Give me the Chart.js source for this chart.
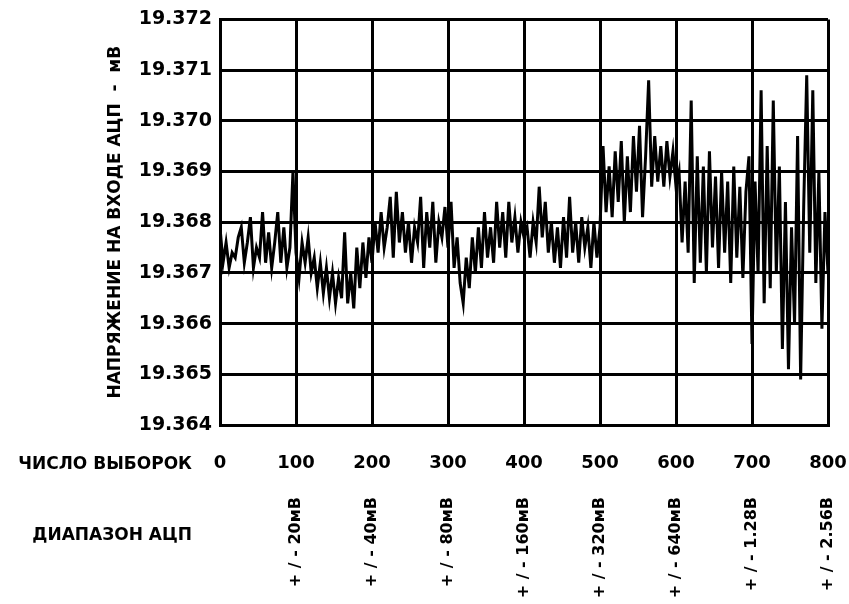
<!DOCTYPE html>
<html>
<head>
<meta charset="utf-8">
<script src="https://cdn.jsdelivr.net/npm/chart.js@4/dist/chart.umd.min.js"></script>
<style>
  html, body { margin: 0; padding: 0; background: #fff; }
  canvas { display: block; }
</style>
</head>
<body>
<canvas id="chart" width="849" height="604"></canvas>
<script>
// число выборок по оси X и подписи диапазонов АЦП
const sampleTicks = [0, 100, 200, 300, 400, 500, 600, 700, 800];
const adcRanges = ['+ / - 20мВ', '+ / - 40мВ', '+ / - 80мВ', '+ / - 160мВ',
                   '+ / - 320мВ', '+ / - 640мВ', '+ / - 1.28В', '+ / - 2.56В'];
const sampleStep = 4;

// напряжение, мВ (каждая 4-я выборка), по участкам диапазонов
const range20mV = [19.3679, 19.3672, 19.3676, 19.3671, 19.3674, 19.3673, 19.3677, 19.3679, 19.3672, 19.3676,
                   19.3681, 19.3671, 19.3675, 19.3673, 19.3682, 19.3672, 19.3678, 19.3671, 19.3676, 19.3682,
                   19.3672, 19.3679, 19.3671, 19.3675, 19.3690, 19.3674];
const range40mV = [19.3669, 19.3676, 19.3672, 19.3677, 19.3670, 19.3673, 19.3667, 19.3672, 19.3666, 19.3671,
                   19.3665, 19.3670, 19.3664, 19.3669, 19.3665, 19.3678, 19.3664, 19.3670, 19.3663, 19.3675,
                   19.3667, 19.3676, 19.3669, 19.3677, 19.3672];
const range80mV = [19.3680, 19.3674, 19.3682, 19.3675, 19.3679, 19.3685, 19.3673, 19.3686, 19.3676, 19.3682,
                   19.3674, 19.3680, 19.3672, 19.3679, 19.3676, 19.3685, 19.3671, 19.3682, 19.3675, 19.3684,
                   19.3672, 19.3680, 19.3677, 19.3683, 19.3675];
const range160mV = [19.3684, 19.3671, 19.3677, 19.3668, 19.3664, 19.3673, 19.3667, 19.3677, 19.3670, 19.3679,
                    19.3671, 19.3682, 19.3673, 19.3679, 19.3672, 19.3684, 19.3675, 19.3682, 19.3673, 19.3684,
                    19.3676, 19.3681, 19.3674, 19.3680, 19.3677];
const range320mV = [19.3679, 19.3673, 19.3680, 19.3676, 19.3687, 19.3677, 19.3684, 19.3674, 19.3680, 19.3672,
                    19.3679, 19.3671, 19.3681, 19.3673, 19.3685, 19.3674, 19.3680, 19.3672, 19.3681, 19.3675,
                    19.3679, 19.3671, 19.3680, 19.3673, 19.3679];
const range640mV = [19.3695, 19.3682, 19.3691, 19.3681, 19.3694, 19.3684, 19.3696, 19.3680, 19.3693, 19.3682,
                    19.3697, 19.3686, 19.3699, 19.3681, 19.3693, 19.3708, 19.3687, 19.3697, 19.3688, 19.3695,
                    19.3687, 19.3696, 19.3689, 19.3694, 19.3687];
const range1_28V = [19.3690, 19.3676, 19.3688, 19.3674, 19.3704, 19.3668, 19.3693, 19.3672, 19.3691, 19.3670,
                    19.3694, 19.3675, 19.3689, 19.3671, 19.3690, 19.3674, 19.3688, 19.3668, 19.3691, 19.3673,
                    19.3687, 19.3669, 19.3686, 19.3693, 19.3656];
const range2_56V = [19.3688, 19.3670, 19.3706, 19.3664, 19.3695, 19.3667, 19.3704, 19.3670, 19.3691, 19.3655,
                    19.3684, 19.3651, 19.3679, 19.3660, 19.3697, 19.3649, 19.3683, 19.3709, 19.3674, 19.3706,
                    19.3668, 19.3690, 19.3659, 19.3682, 19.3670];

const yMin = 19.364, yMax = 19.372, yStep = 0.001;

const voltage = [].concat(range20mV, range40mV, range80mV, range160mV,
                          range320mV, range640mV, range1_28V, range2_56V);
const points = voltage.map((v, i) => ({ x: i * sampleStep, y: v }));

const FONT = "'DejaVu Sans', sans-serif";

// подписи слева и диапазоны АЦП под осью X
const extraLabels = {
  id: 'extraLabels',
  afterDraw(chart) {
    const ctx = chart.ctx;
    const xs = chart.scales.x;
    ctx.save();
    ctx.fillStyle = '#000';
    ctx.textBaseline = 'middle';
    ctx.textAlign = 'right';
    ctx.font = 'bold 17px ' + FONT;
    ctx.fillText('ЧИСЛО ВЫБОРОК', 192, 465);
    ctx.fillText('ДИАПАЗОН АЦП', 192, 536);

    ctx.font = 'bold 16px ' + FONT;
    adcRanges.forEach((label, i) => {
      const x = xs.getPixelForValue(sampleTicks[i + 1]);
      ctx.save();
      ctx.translate(x, 497);
      ctx.rotate(-Math.PI / 2);
      ctx.textAlign = 'right';
      ctx.textBaseline = 'middle';
      ctx.fillText(label, 0, 0);
      ctx.restore();
    });
    ctx.restore();
  }
};

new Chart(document.getElementById('chart'), {
  type: 'line',
  data: {
    datasets: [{
      data: points,
      borderColor: '#000',
      borderWidth: 3,
      borderJoinStyle: 'miter',
      pointRadius: 0,
      tension: 0,
      fill: false
    }]
  },
  options: {
    responsive: false,
    animation: false,
    layout: { padding: { left: 102, top: 18, right: 21, bottom: 0 } },
    plugins: {
      legend: { display: false },
      tooltip: { enabled: false }
    },
    scales: {
      x: {
        type: 'linear',
        min: 0,
        max: 800,
        afterBuildTicks: (scale) => { scale.ticks = sampleTicks.map(v => ({ value: v })); },
        afterFit: (scale) => { scale.height = 179; },
        ticks: {
          color: '#000',
          font: { family: FONT, size: 18, weight: 'bold' },
          padding: 2,
          maxRotation: 0
        },
        // невидимые засечки только сдвигают подписи вниз
        grid: { color: '#000', lineWidth: 3, drawTicks: true, tickLength: 26, tickColor: 'rgba(0,0,0,0)' },
        border: { color: '#000', width: 3 }
      },
      y: {
        min: yMin,
        max: yMax,
        afterFit: (scale) => { scale.width = 118; },
        ticks: {
          stepSize: yStep,
          color: '#000',
          font: { family: FONT, size: 19, weight: 'bold' },
          padding: 8,
          callback: (v) => v.toFixed(3)
        },
        title: {
          display: true,
          text: 'НАПРЯЖЕНИЕ НА ВХОДЕ АЦП  -  мВ',
          color: '#000',
          font: { family: FONT, size: 17, weight: 'bold' },
          padding: { top: 3, bottom: 4 }
        },
        grid: { color: '#000', lineWidth: 3, drawTicks: false },
        border: { color: '#000', width: 3 }
      }
    }
  },
  plugins: [extraLabels]
});
</script>
</body>
</html>
